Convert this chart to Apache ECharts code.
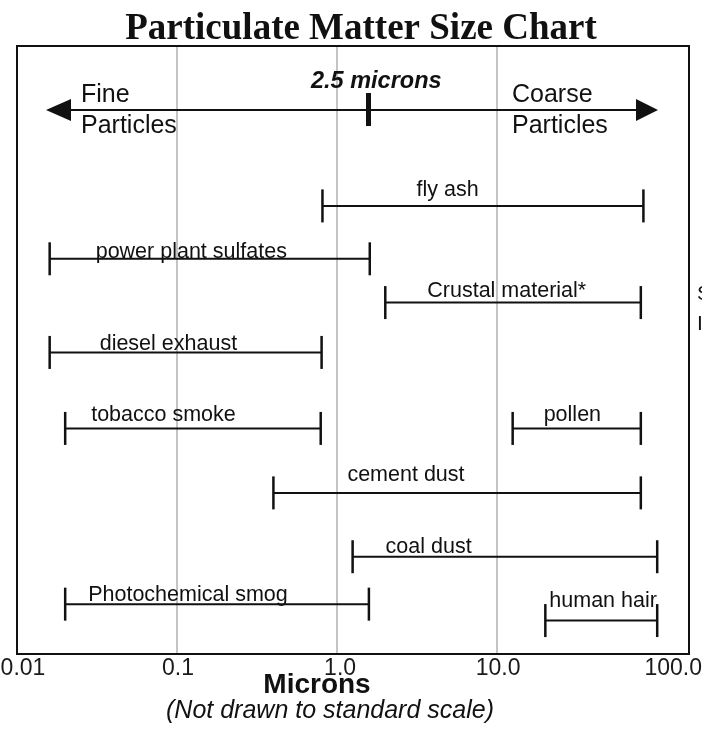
<!DOCTYPE html>
<html lang="en">
<head>
  <meta charset="UTF-8">
  <title>Particulate Matter Size Chart</title>
  <script src="https://cdn.jsdelivr.net/npm/echarts/dist/echarts.min.js"></script>
  <style>
    html, body { margin: 0; padding: 0; background: #fff; }
    #chart { width: 702px; height: 729px; }
  </style>
</head>
<body>
  <div id="chart"></div>
<script>
  // particle sources and their size ranges (microns)
  const sources = ["fly ash", "power plant sulfates", "Crustal material*", "diesel exhaust",
    "tobacco smoke", "pollen", "cement dust", "coal dust", "Photochemical smog", "human hair"];
  const minMicrons = [0.81, 0.016, 2.0, 0.016, 0.02, 12.5, 0.4, 1.25, 0.02, 20];
  const maxMicrons = [82, 1.6, 79, 0.8, 0.79, 79, 79, 100, 1.58, 100];
  // vertical lane of each range, 0 = top of the frame, 100 = bottom
  const rowLevel = [26.3, 35.0, 42.2, 50.4, 62.9, 62.9, 73.5, 84.0, 91.8, 94.5];
  const tickValues = [0.01, 0.1, 1, 10, 100];
  const tickLabels = ["0.01", "0.1", "1.0", "10.0", "100.0"];
  const gridValues = [0.1, 1, 10];

  // label placement: [px right of left cap, px from the line]
  const labelNudge = [[94, -16], [46, -7], [42, -11], [50, -8], [26, -13],
    [31, -13], [74, -18], [33, -10], [23, -9], [4, -19]];
  const tickShift = [12, 2, 6, 2, 32];

  const G = { left: 17, top: 46, width: 672, height: 608 };
  const SANS = '"Liberation Sans", Arial, sans-serif';

  const chart = echarts.init(document.getElementById("chart"));

  const rich = {};
  tickShift.forEach((s, i) => {
    rich["t" + i] = { fontSize: 23, fontFamily: SANS, color: "#1a1a1a", padding: [0, 0, 0, s] };
  });

  function renderRange(params, api) {
    const a = api.coord([api.value(0), api.value(2)]);
    const b = api.coord([api.value(1), api.value(2)]);
    const i = params.dataIndex;
    const cap = 16.5;
    const ink = "#111";
    return {
      type: "group",
      children: [
        { type: "line", shape: { x1: a[0], y1: a[1], x2: b[0], y2: b[1] }, style: { stroke: ink, lineWidth: 2 } },
        { type: "line", shape: { x1: a[0], y1: a[1] - cap, x2: a[0], y2: a[1] + cap }, style: { stroke: ink, lineWidth: 2.5 } },
        { type: "line", shape: { x1: b[0], y1: b[1] - cap, x2: b[0], y2: b[1] + cap }, style: { stroke: ink, lineWidth: 2.5 } },
        {
          type: "text",
          style: {
            x: a[0] + labelNudge[i][0], y: a[1] + labelNudge[i][1],
            text: sources[i], font: "21.5px " + SANS, fill: ink,
            textAlign: "left", textVerticalAlign: "middle"
          }
        }
      ]
    };
  }

  const option = {
    animation: false,
    backgroundColor: "#fff",
    grid: { left: G.left, top: G.top, width: G.width, height: G.height, outerBoundsMode: "none", containLabel: false },
    xAxis: {
      type: "log",
      logBase: 10,
      min: 0.01,
      max: 158,
      axisLine: { show: false },
      axisTick: { show: false },
      splitLine: { show: false },
      axisLabel: {
        margin: 3,
        hideOverlap: false,
        rich: rich,
        formatter: (v) => {
          const e = Math.log10(v);
          const k = tickValues.findIndex((t) => Math.abs(Math.log10(t) - e) < 0.01);
          return k < 0 ? "" : "{t" + k + "|" + tickLabels[k] + "}";
        }
      }
    },
    yAxis: { type: "value", min: 0, max: 100, inverse: true, show: false },
    series: [{
      type: "custom",
      renderItem: renderRange,
      data: sources.map((s, i) => [minMicrons[i], maxMicrons[i], rowLevel[i]]),
      clip: false,
      z: 5,
      markLine: {
        z: 1,
        silent: true,
        symbol: "none",
        label: { show: false },
        lineStyle: { type: "solid", color: "#c4c4c4", width: 2 },
        data: gridValues.map((v) => ({ xAxis: v }))
      }
    }],
    graphic: [
      {
        type: "text", x: 361, y: 29, z: 10,
        style: { text: "Particulate Matter Size Chart", font: 'bold 37px "Liberation Serif", "Times New Roman", serif',
          fill: "#111", textAlign: "center", textVerticalAlign: "middle" }
      },
      {
        type: "rect", z: 20,
        shape: { x: G.left, y: G.top, width: G.width, height: G.height },
        style: { fill: "none", stroke: "#111", lineWidth: 2 }
      },
      // fine / coarse arrow
      { type: "line", z: 10, shape: { x1: 70, y1: 110, x2: 640, y2: 110 }, style: { stroke: "#111", lineWidth: 2 } },
      { type: "polygon", z: 10, shape: { points: [[46, 110], [71, 99], [71, 121]] }, style: { fill: "#111" } },
      { type: "polygon", z: 10, shape: { points: [[658, 110], [636, 99], [636, 121]] }, style: { fill: "#111" } },
      { type: "rect", z: 10, shape: { x: 366, y: 93, width: 5, height: 33 }, style: { fill: "#111" } },
      {
        type: "text", x: 311, y: 82, z: 10,
        style: { text: "2.5 microns", font: "italic bold 23.5px " + SANS, fill: "#111", textVerticalAlign: "middle" }
      },
      {
        type: "text", x: 81, y: 95, z: 10,
        style: { text: "Fine", font: "25px " + SANS, fill: "#111", textVerticalAlign: "middle" }
      },
      {
        type: "text", x: 81, y: 126, z: 10,
        style: { text: "Particles", font: "25px " + SANS, fill: "#111", textVerticalAlign: "middle" }
      },
      {
        type: "text", x: 512, y: 95, z: 10,
        style: { text: "Coarse", font: "25px " + SANS, fill: "#111", textVerticalAlign: "middle" }
      },
      {
        type: "text", x: 512, y: 126, z: 10,
        style: { text: "Particles", font: "25px " + SANS, fill: "#111", textVerticalAlign: "middle" }
      },
      // text cut off at the right edge in the source picture
      {
        type: "text", x: 697, y: 294, z: 10,
        style: { text: "S", font: "21px " + SANS, fill: "#111", textVerticalAlign: "middle" }
      },
      {
        type: "text", x: 697, y: 324, z: 10,
        style: { text: "I", font: "21px " + SANS, fill: "#111", textVerticalAlign: "middle" }
      },
      {
        type: "text", x: 317, y: 685, z: 10,
        style: { text: "Microns", font: "bold 28px " + SANS, fill: "#111", textAlign: "center", textVerticalAlign: "middle" }
      },
      {
        type: "text", x: 330, y: 711, z: 10,
        style: { text: "(Not drawn to standard scale)", font: "italic 25px " + SANS, fill: "#111",
          textAlign: "center", textVerticalAlign: "middle" }
      }
    ]
  };

  chart.setOption(option);
</script>
</body>
</html>
